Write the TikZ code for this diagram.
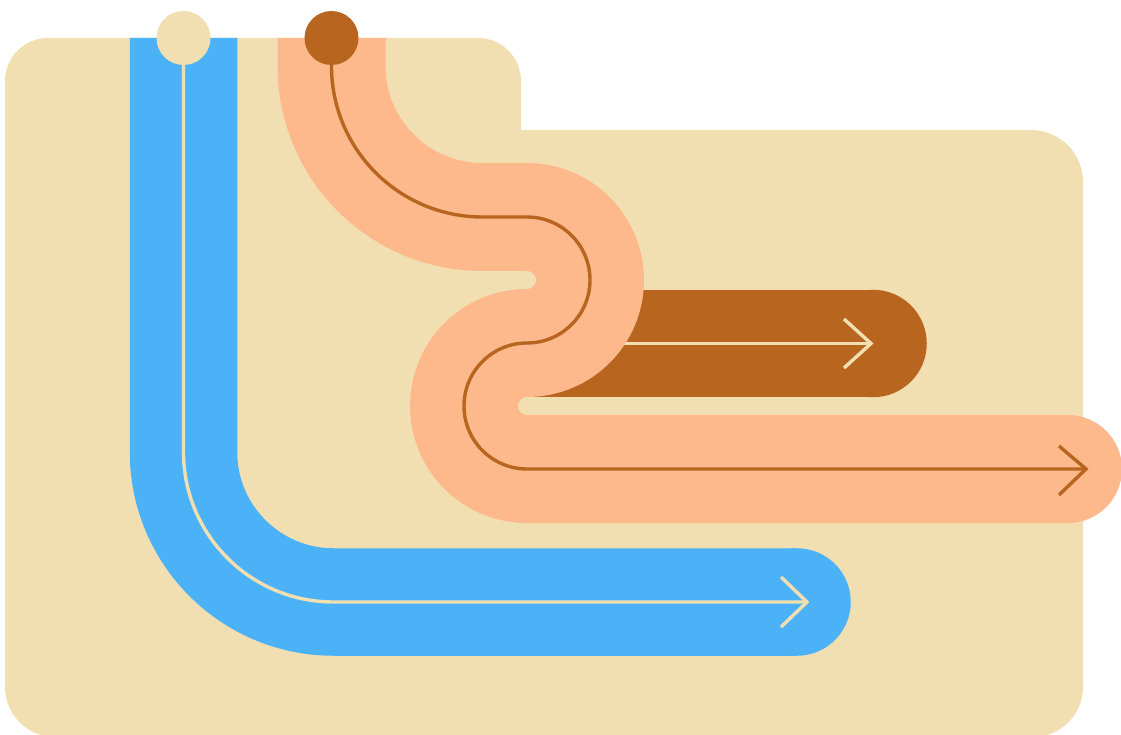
\documentclass[tikz,border=0pt]{standalone}
\definecolor{bgbeige}{HTML}{F1DFB1}
\definecolor{pathblue}{HTML}{4BB2F8}
\definecolor{salmon}{HTML}{FDB98B}
\definecolor{rust}{HTML}{B8651F}
\begin{document}
\begin{tikzpicture}[x=1pt,y=1pt,
  band/.style={line width=107.5pt, line cap=butt},
  guide/.style={line width=3.4pt, line cap=butt, line join=round},
  chevron/.style={line width=3.4pt, line cap=butt, line join=miter}]
\clip (0,0) rectangle (1121,734);
% background folder shape
\fill[bgbeige] (5,47) -- (5,653) arc[start angle=180,end angle=90,radius=43]
  -- (478,696) arc[start angle=90,end angle=0,radius=43]
  -- (521,604) -- (1031,604) arc[start angle=90,end angle=0,radius=52]
  -- (1083,47) arc[start angle=0,end angle=-90,radius=50]
  -- (55,-3) arc[start angle=270,end angle=180,radius=50] -- cycle;
% blue path
\coordinate (bstart) at (183.5,696);
\coordinate (bend) at (797,132);
\draw[band,pathblue] (bstart) -- (183.5,282) arc[start angle=180,end angle=270,radius=150] -- (bend);
\fill[pathblue] (bend) circle[radius=53.75];
\draw[guide,bgbeige] (bstart) -- (183.5,282) arc[start angle=180,end angle=270,radius=150] -- (806,132);
\draw[chevron,bgbeige] (781,157) -- (807,132) -- (781,107);
\fill[bgbeige] (bstart) circle[radius=27];
% brown bar
\coordinate (rstart) at (527,390.5);
\coordinate (rend) at (873,390.5);
\draw[band,rust] (rstart) -- (rend);
\fill[rust] (rend) circle[radius=53.75];
\draw[guide,bgbeige] (rstart) -- (869,390.5);
\draw[chevron,bgbeige] (844,415) -- (871,390.5) -- (844,366);
% salmon S path
\coordinate (sstart) at (331.5,696);
\coordinate (send) at (1068,265);
\draw[band,salmon,line width=108pt] (sstart) -- (331.5,668) arc[start angle=180,end angle=270,radius=151]
  -- (527,517) arc[start angle=90,end angle=-90,radius=63]
  arc[start angle=90,end angle=270,radius=63] -- (send);
\fill[salmon] (send) circle[radius=54];
\draw[guide,rust] (sstart) -- (331.5,668) arc[start angle=180,end angle=270,radius=151]
  -- (527,517) arc[start angle=90,end angle=-90,radius=63]
  arc[start angle=90,end angle=270,radius=63] -- (1084,265);
\draw[chevron,rust] (1059,288) -- (1086,265) -- (1059,239);
\fill[rust] (sstart) circle[radius=27];
\end{tikzpicture}
\end{document}
